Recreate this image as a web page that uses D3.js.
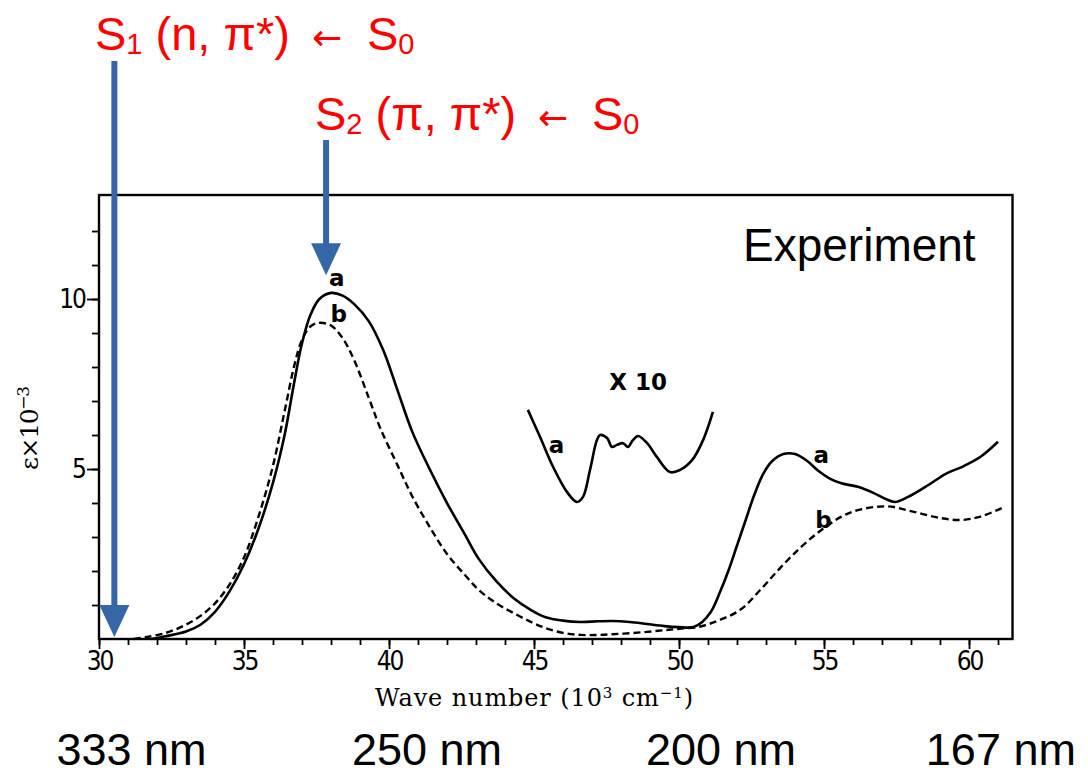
<!DOCTYPE html>
<html><head><meta charset="utf-8">
<script src="https://cdn.jsdelivr.net/npm/d3@7"></script>
<style>body{margin:0;background:#fff}svg{display:block}</style></head>
<body><svg id="c" width="1088" height="775"></svg>
<script>
// ---- data (wave number in 10^3 cm^-1, epsilon x 10^-3) ----
const curveA_wn  = [31.8,32.3,33.0,33.5,34.0,34.5,35.0,35.5,36.0,36.4,36.7,37.0,37.3,37.6,38.0,38.4,38.8,39.3,39.8,40.3,40.8,41.4,42.0,42.6,43.1,43.7,44.3,44.9,45.4,46.0,46.6,47.2,47.7,48.3,48.9,49.5,50.0,50.5,50.8,51.1,51.4,51.7,52.0,52.3,52.6,52.9,53.2,53.6,54.0,54.4,54.8,55.2,55.6,56.2,56.7,57.1,57.45,57.9,58.6,59.2,59.8,60.4,61.0];
const curveA_val = [0.0,0.08,0.22,0.42,0.8,1.4,2.2,3.25,4.6,6.0,7.4,8.7,9.55,10.0,10.18,10.1,9.85,9.35,8.5,7.3,6.1,5.0,4.0,3.1,2.35,1.7,1.2,0.85,0.64,0.54,0.5,0.52,0.53,0.5,0.44,0.38,0.35,0.35,0.5,0.8,1.35,2.0,2.75,3.5,4.25,4.85,5.22,5.44,5.44,5.25,4.95,4.72,4.58,4.47,4.3,4.13,4.03,4.18,4.53,4.86,5.08,5.36,5.8];
const curveB_wn  = [31.2,31.6,32.3,32.9,33.5,34.0,34.5,35.0,35.5,36.0,36.4,36.75,37.0,37.3,37.6,38.0,38.4,38.8,39.3,39.7,40.3,40.8,41.4,42.0,42.6,43.1,43.7,44.3,44.9,45.4,46.0,46.6,47.2,47.7,48.3,48.9,49.5,50.0,50.7,51.4,52.1,52.8,53.5,54.2,54.9,55.6,56.2,57.2,58.1,59.0,59.7,60.4,61.2];
const curveB_val = [0.0,0.05,0.18,0.38,0.68,1.05,1.6,2.4,3.6,5.1,6.7,8.1,8.8,9.2,9.3,9.22,8.85,8.2,7.1,6.2,5.1,4.2,3.3,2.5,1.9,1.44,1.05,0.76,0.5,0.32,0.18,0.12,0.12,0.14,0.17,0.21,0.26,0.3,0.36,0.56,0.85,1.44,2.1,2.7,3.2,3.6,3.8,3.9,3.74,3.56,3.5,3.6,3.88];
// inset "x 10" curve of a (plotted on the same axes)
const insetA_wn  = [44.79,45.21,45.66,46.14,46.48,46.69,46.93,47.17,47.28,47.52,47.69,47.86,48.07,48.24,48.41,48.59,48.9,49.24,49.69,50.03,50.45,50.83,51.17];
const insetA_val = [6.74,5.94,5.06,4.32,4.03,4.18,4.97,5.85,6.0,5.91,5.65,5.71,5.76,5.65,5.85,5.97,5.76,5.35,4.91,4.97,5.26,5.85,6.68];

const xMajorTicks = [30,35,40,45,50,55,60];
const yMajorTicks = [5,10];
const nmLabels = ["333 nm","250 nm","200 nm","167 nm"];
const nmPos    = [31.12,41.31,51.45,61.1];

const curveLabelText = ["a","b","X 10","a","a","b"];
const curveLabelWn  = [38.2,38.27,48.59,45.78,54.91,54.98];
const curveLabelVal = [10.38,9.32,7.32,5.47,5.18,3.27];

const arrowWn   = [30.53,37.83];
const arrowTipV = [0.06,10.7];

// ---- layout ----
const svg = d3.select('#c');
svg.append('rect').attr('width',1088).attr('height',775).attr('fill','#fff');
const x = d3.scaleLinear().domain([30,61.5]).range([99,1012.5]);
const y = d3.scaleLinear().domain([0,13.06]).range([639,195]);

const tickFont = "'DejaVu Sans',sans-serif";

// bottom axis
const gxm = svg.append('g').attr('transform','translate(0,639)')
  .call(d3.axisBottom(x).tickValues(d3.range(30,62)).tickSize(6).tickFormat(''));
const gx = svg.append('g').attr('transform','translate(0,639)')
  .call(d3.axisBottom(x).tickValues(xMajorTicks).tickSize(10).tickPadding(3).tickFormat(d3.format('d')));
// left axis
const gym = svg.append('g').attr('transform','translate(99,0)')
  .call(d3.axisLeft(y).tickValues(d3.range(1,13)).tickSize(7).tickFormat(''));
const gy = svg.append('g').attr('transform','translate(99,0)')
  .call(d3.axisLeft(y).tickValues(yMajorTicks).tickSize(12).tickPadding(2).tickFormat(d3.format('d')));
[gxm,gx,gym,gy].forEach(g=>{
  g.select('.domain').remove();
  g.selectAll('line').attr('stroke','#000').attr('stroke-width',1.8);
  g.selectAll('text').attr('fill','#000').style('font-family',tickFont).style('font-size','26px')
    .style('font-stretch','condensed').style('letter-spacing','-2px');
});
gx.selectAll('text').attr('dy','0.68em');

// frame
svg.append('rect').attr('x',x(30)).attr('y',y(13.06)).attr('width',x(61.5)-x(30)).attr('height',y(0)-y(13.06))
  .attr('fill','none').attr('stroke','#000').attr('stroke-width',2.4);

// curves
const line = d3.line().x(d=>x(d[0])).y(d=>y(d[1])).curve(d3.curveCatmullRom.alpha(0.5));
const zip = (a,b)=>a.map((v,i)=>[v,b[i]]);
svg.append('path').datum(zip(curveB_wn,curveB_val)).attr('d',line)
  .attr('fill','none').attr('stroke','#000').attr('stroke-width',2.4).attr('stroke-dasharray','7,4');
svg.append('path').datum(zip(curveA_wn,curveA_val)).attr('d',line)
  .attr('fill','none').attr('stroke','#000').attr('stroke-width',2.6);
svg.append('path').datum(zip(insetA_wn,insetA_val)).attr('d',line)
  .attr('fill','none').attr('stroke','#000').attr('stroke-width',2.6);

// curve labels
svg.selectAll('text.cl').data(curveLabelText).join('text').attr('class','cl')
  .attr('x',(d,i)=>x(curveLabelWn[i])).attr('y',(d,i)=>y(curveLabelVal[i]))
  .attr('text-anchor','middle').attr('fill','#000')
  .style('font-family',"'DejaVu Sans',sans-serif").style('font-size','23px').style('font-weight','bold')
  .text(d=>d);

// axis titles
const xt = svg.append('text').attr('x',534).attr('y',706).attr('text-anchor','middle')
  .attr('textLength',318).attr('lengthAdjust','spacing')
  .style('font-family',"'DejaVu Serif',serif").style('font-size','24px').attr('fill','#000');
xt.append('tspan').text('Wave number (10');
xt.append('tspan').text('3').attr('dy',-8).style('font-size','15px');
xt.append('tspan').text(' cm').attr('dy',8);
xt.append('tspan').text('\u22121').attr('dy',-8).style('font-size','15px');
xt.append('tspan').text(')').attr('dy',8);

const yt = svg.append('text').attr('transform','translate(38,428) rotate(-90)').attr('text-anchor','middle')
  .attr('textLength',84).attr('lengthAdjust','spacing')
  .style('font-family',"'DejaVu Serif',serif").style('font-size','25px').attr('fill','#000');
yt.append('tspan').text('\u03B5\u00D710');
yt.append('tspan').text('\u22123').attr('dy',-9).style('font-size','17px');

// Experiment
svg.append('text').attr('x',743).attr('y',261).text('Experiment')
  .style('font-family',"'Liberation Sans',Arial,sans-serif").style('font-size','46px').attr('fill','#000');

// nm labels
svg.selectAll('text.nm').data(nmLabels).join('text').attr('class','nm')
  .attr('x',(d,i)=>x(nmPos[i])).attr('y',765).attr('text-anchor','middle')
  .style('font-family',"'Liberation Sans',Arial,sans-serif").style('font-size','45px').attr('fill','#000')
  .text(d=>d);

// blue arrows
const blue = '#3566a8';
const arrowTop = [61,140];
arrowWn.forEach((wn,i)=>{
  const cx = x(wn), tip = y(arrowTipV[i]), hh = 32, hw = 15;
  svg.append('line').attr('x1',cx).attr('x2',cx).attr('y1',arrowTop[i]).attr('y2',tip-hh+2)
    .attr('stroke',blue).attr('stroke-width',6);
  svg.append('path').attr('d',`M${cx-hw},${tip-hh} L${cx+hw},${tip-hh} L${cx},${tip} Z`).attr('fill',blue);
});

// red state labels
const red = '#ff0000';
function stateLabel(x0, base, sub, inner, arrowX, s0X){
  const t = svg.append('text').attr('x',x0).attr('y',base).attr('fill',red)
    .style('font-family',"'Liberation Sans',Arial,sans-serif").style('font-size','47px');
  t.append('tspan').text('S');
  t.append('tspan').text(sub).attr('dy',4).style('font-size','29px');
  t.append('tspan').text(' ('+inner+', \u03C0*)').attr('dy',-4);
  svg.append('text').attr('x',arrowX).attr('y',base).attr('fill',red)
    .style('font-family',"'DejaVu Sans',sans-serif").style('font-size','36px').text('\u2190');
  const t2 = svg.append('text').attr('x',s0X).attr('y',base).attr('fill',red)
    .style('font-family',"'Liberation Sans',Arial,sans-serif").style('font-size','47px');
  t2.append('tspan').text('S');
  t2.append('tspan').text('0').attr('dy',4).style('font-size','29px');
}
stateLabel(95,50,'1','n',312,367);
stateLabel(315,130,'2','\u03C0',538,592);
</script></body></html>
